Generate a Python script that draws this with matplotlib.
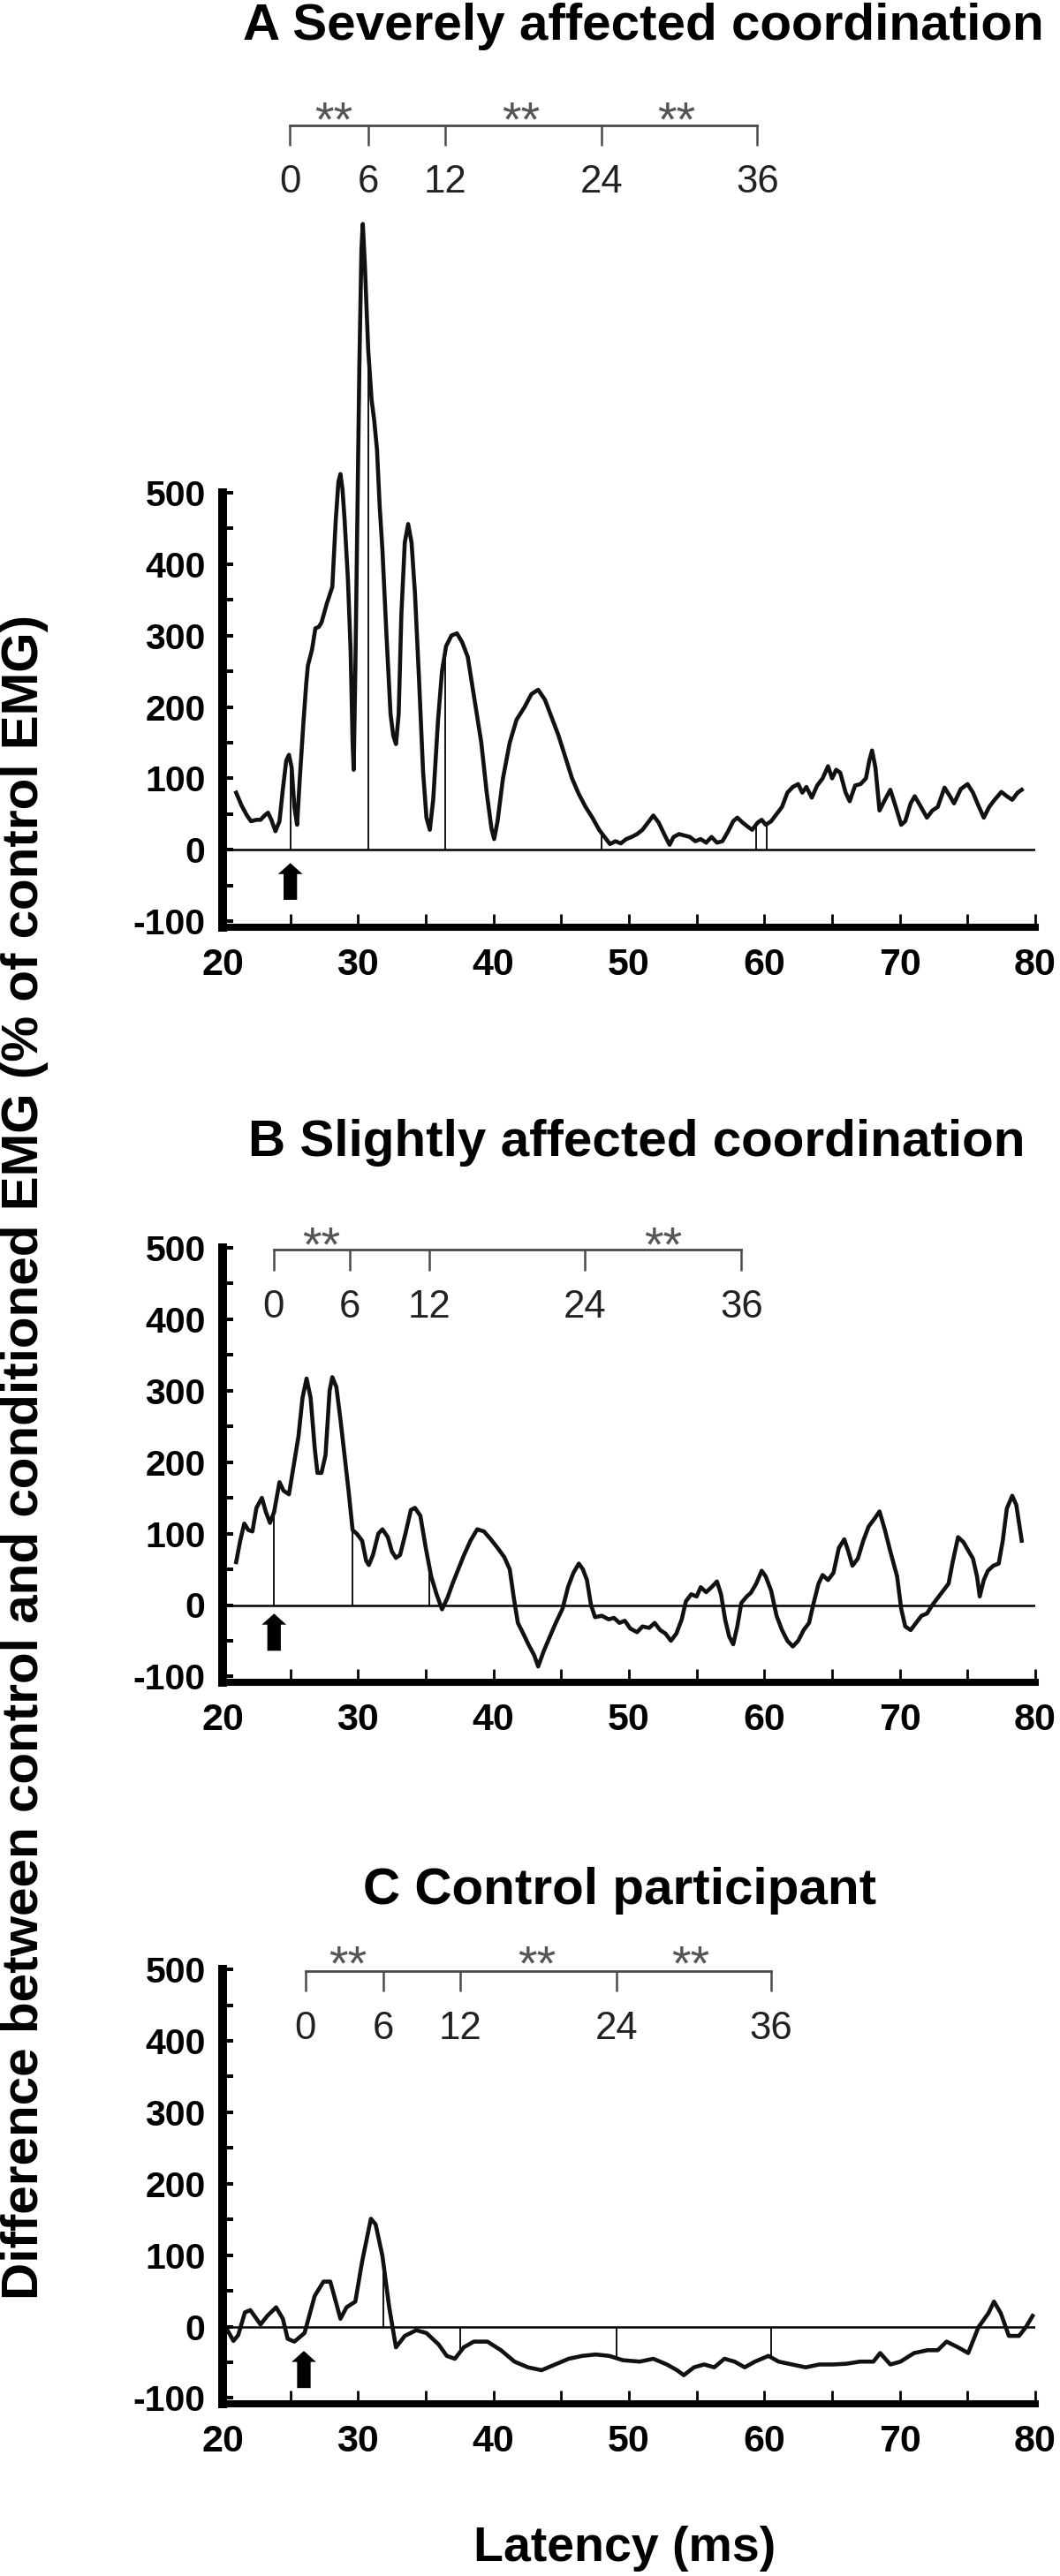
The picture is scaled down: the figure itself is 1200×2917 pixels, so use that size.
import numpy as np
import matplotlib
matplotlib.use("Agg")
import matplotlib.pyplot as plt
from matplotlib.ticker import MultipleLocator

plt.rcParams['font.family'] = ['Liberation Sans', 'DejaVu Sans']
plt.rcParams['font.weight'] = 'bold'
plt.rcParams['axes.unicode_minus'] = False

# ---- values: latency (ms) vs difference (% of control EMG)
a_ms = [21.0, 21.4, 21.8, 22.1, 22.5, 22.8, 23.1, 23.35, 23.6, 23.9, 24.2, 24.45, 24.7, 24.9,
        25.1, 25.3, 25.5, 25.7, 25.96, 26.18, 26.3, 26.6, 26.85, 27.1, 27.3, 27.7, 28.1, 28.35,
        28.55, 28.7, 28.85, 29.0, 29.25, 29.45, 29.6, 29.68, 29.8, 29.95, 30.1, 30.25, 30.35,
        30.5, 30.75, 31.0, 31.2, 31.4, 31.6, 31.8, 32.1, 32.4, 32.6, 32.8, 33.0, 33.2, 33.45,
        33.7, 33.95, 34.2, 34.5, 34.8, 35.05, 35.3, 35.55, 35.9, 36.2, 36.5, 36.9, 37.3, 37.7,
        38.1, 38.6, 39.1, 39.5, 39.85, 40.05, 40.3, 40.7, 41.2, 41.7, 42.3, 42.8, 43.3, 43.8,
        44.3, 44.8, 45.3, 45.8, 46.3, 46.8, 47.3, 47.8, 48.2, 48.6, 49.0, 49.4, 49.8, 50.2,
        50.6, 51.0, 51.4, 51.8, 52.2, 52.6, 53.0, 53.3, 53.7, 54.1, 54.5, 54.9, 55.3, 55.7,
        56.1, 56.5, 56.9, 57.3, 57.7, 58.0, 58.4, 58.8, 59.1, 59.5, 59.8, 60.1, 60.5, 60.9,
        61.3, 61.7, 62.1, 62.5, 62.8, 63.1, 63.5, 63.9, 64.3, 64.7, 65.0, 65.3, 65.6, 66.0,
        66.3, 66.7, 67.1, 67.5, 67.75, 67.95, 68.2, 68.5, 68.9, 69.3, 69.7, 70.1, 70.4, 70.8,
        71.1, 71.5, 72.0, 72.4, 72.8, 73.3, 73.7, 74.0, 74.5, 75.0, 75.4, 75.8, 76.2, 76.6,
        77.0, 77.5, 77.9, 78.3, 78.7, 79.0]
a_val = [80, 62, 48, 40, 42, 42, 48, 52, 42, 26, 40, 85, 125, 133,
         115, 60, 35, 100, 176, 234, 258, 280, 310, 312, 318, 345, 368, 460,
         515, 526, 505, 464, 380, 280, 150, 112, 250, 460, 680, 840, 876,
         820, 700, 630, 600, 560, 480, 420, 300, 190, 160, 148, 190, 330, 430,
         456, 430, 360, 240, 110, 45, 28, 70, 180, 250, 285, 300, 303, 290,
         270, 210, 150, 80, 30, 15, 40, 100, 150, 182, 200, 218, 224, 210,
         185, 160, 130, 100, 78, 60, 45, 28, 18, 8, 12, 9, 15, 18,
         22, 28, 38, 48, 38, 22, 7, 18, 22, 20, 18, 12, 15, 10,
         18, 10, 12, 25, 40, 45, 38, 32, 28, 38, 42, 35, 40, 50,
         60, 80, 88, 92, 80, 88, 73, 90, 100, 117, 100, 112, 108, 80,
         68, 90, 92, 100, 125, 139, 115, 55, 70, 84, 60, 35, 40, 65,
         75, 62, 45, 55, 60, 87, 75, 65, 85, 92, 80, 62, 45, 60,
         70, 81, 75, 70, 80, 84]

b_ms = [21.0, 21.3, 21.6, 21.9, 22.2, 22.5, 22.9, 23.2, 23.5, 23.8, 24.2, 24.5, 24.9, 25.2,
        25.6, 25.9, 26.2, 26.5, 26.8, 27.0, 27.3, 27.6, 27.9, 28.1, 28.4, 28.7, 29.0, 29.3,
        29.6, 29.9, 30.3, 30.6, 30.8, 31.1, 31.5, 31.8, 32.2, 32.5, 32.8, 33.1, 33.5, 33.9,
        34.2, 34.6, 35.0, 35.4, 35.8, 36.2, 36.6, 37.0, 37.4, 37.8, 38.3, 38.8, 39.3, 39.8,
        40.3, 40.8, 41.2, 41.5, 41.8, 42.2, 42.6, 43.0, 43.3, 43.7, 44.1, 44.6, 45.1, 45.5,
        45.9, 46.3, 46.6, 46.9, 47.2, 47.5, 48.0, 48.5, 48.9, 49.3, 49.7, 50.1, 50.6, 51.0,
        51.5, 51.9, 52.3, 52.7, 53.1, 53.5, 53.9, 54.2, 54.6, 55.0, 55.3, 55.7, 56.1, 56.5,
        56.8, 57.1, 57.4, 57.7, 58.0, 58.3, 58.7, 59.0, 59.4, 59.8, 60.1, 60.5, 60.9, 61.3,
        61.7, 62.1, 62.5, 62.9, 63.3, 63.6, 64.0, 64.3, 64.7, 65.1, 65.5, 65.9, 66.2, 66.5,
        66.9, 67.3, 67.7, 68.1, 68.5, 68.9, 69.3, 69.8, 70.1, 70.4, 70.8, 71.2, 71.6, 72.0,
        72.4, 72.8, 73.2, 73.6, 73.9, 74.3, 74.7, 75.0, 75.4, 75.7, 75.9, 76.2, 76.5, 76.9,
        77.3, 77.6, 77.9, 78.3, 78.6, 79.0]
b_val = [60, 90, 114, 105, 103, 136, 150, 130, 115, 130, 172, 160, 155, 190,
         236, 290, 317, 290, 220, 185, 185, 210, 300, 319, 305, 260, 210, 160,
         105, 100, 90, 62, 56, 70, 100, 106, 95, 75, 66, 70, 100, 133,
         136, 125, 80, 40, 15, -6, 10, 31, 50, 69, 90, 106, 103, 92,
         80, 67, 50, 10, -25, -40, -56, -70, -86, -65, -47, -25, -5, 25,
         45, 58, 50, 35, 0, -17, -15, -20, -18, -25, -22, -33, -38, -30,
         -32, -25, -35, -40, -50, -40, -20, 5, 15, 12, 25, 18, 25, 33,
         15, -20, -44, -55, -30, 3, 12, 17, 30, 48, 40, 20, -15, -35,
         -50, -58, -50, -35, -25, 0, 30, 42, 35, 45, 80, 92, 75, 55,
         65, 90, 110, 120, 131, 105, 75, 40, -5, -30, -35, -25, -15, -12,
         0, 10, 20, 30, 60, 95, 88, 78, 65, 40, 12, 35, 48, 55,
         58, 90, 135, 153, 140, 90]

c_ms = [20.3, 20.8, 21.15, 21.65, 22.05, 22.8, 23.3, 23.95, 24.45, 24.8, 25.3, 26.05, 26.8,
        27.45, 27.95, 28.3, 28.7, 29.15, 29.8, 30.3, 30.95, 31.3, 31.8, 32.3, 32.8, 33.45,
        34.3, 35.05, 35.95, 36.55, 37.15, 37.8, 38.55, 39.55, 40.55, 41.55, 42.55, 43.55,
        44.55, 45.55, 46.55, 47.55, 48.55, 49.55, 50.8, 51.8, 52.8, 53.55, 54.05, 54.8,
        55.55, 56.3, 57.05, 57.8, 58.55, 59.3, 60.3, 61.05, 62.05, 63.05, 64.05, 65.05,
        66.05, 67.05, 68.05, 68.55, 69.3, 70.05, 71.05, 72.05, 72.8, 73.45, 74.3, 75.05,
        75.8, 76.55, 76.95, 77.45, 78.05, 78.8, 79.3, 79.8]
c_val = [-3, -20, -12, 20, 23, 3, 15, 27, 11, -17, -21, -9, 43,
         63, 63, 39, 11, 27, 35, 91, 151, 143, 99, 27, -29, -13,
         -5, -9, -25, -41, -45, -29, -21, -21, -33, -49, -57, -61,
         -53, -45, -41, -39, -41, -47, -49, -45, -53, -61, -68, -57,
         -53, -57, -45, -49, -57, -49, -41, -49, -53, -57, -53, -53,
         -52, -49, -49, -37, -53, -49, -37, -33, -33, -21, -29, -37,
         -1, 19, 35, 19, -13, -13, -1, 15]

bracket_labels = ['0', '6', '12', '24', '36']
a_bracket = [24.96, 30.74, 36.44, 47.98, 59.47]
b_bracket = [23.77, 29.41, 35.25, 46.73, 58.3]
c_bracket = [26.12, 31.86, 37.55, 49.07, 60.5]
a_stars = [28.2, 42.0, 53.5]
b_stars = [27.27, 52.56]
c_stars = [29.26, 43.23, 54.56]
a_marks = [25.0, 30.74, 36.44, 47.98, 59.4, 60.2]
b_marks = [23.77, 29.56, 35.25]
c_marks = [31.86, 37.55, 49.07, 60.5]
a_arrow, b_arrow, c_arrow = 25.0, 23.8, 26.0

W, H = 1200, 2917
X20, X80 = 252, 1172
PX = 0.809       # pixels per % unit
YMIN = -108

fig = plt.figure(figsize=(W / 100, H / 100), dpi=100)


def make_axes(y_zero):
    bot = y_zero - YMIN * PX
    top = y_zero - 500 * PX
    ax = fig.add_axes([X20 / W, 1 - bot / H, (X80 - X20) / W, (bot - top) / H])
    ax.set_xlim(20, 80)
    ax.set_ylim(YMIN, 500)
    for s in ['top', 'right']:
        ax.spines[s].set_visible(False)
    ax.spines['left'].set_linewidth(7.2)
    ax.spines['bottom'].set_linewidth(5.8)
    ax.set_xticks(range(20, 81, 10))
    ax.xaxis.set_minor_locator(MultipleLocator(5))
    ax.set_yticks(range(-100, 501, 100))
    ax.yaxis.set_minor_locator(MultipleLocator(50))
    ax.tick_params(axis='y', which='both', direction='in', length=8.6, width=2.9,
                   labelsize=29.5, pad=14)
    ax.tick_params(axis='x', which='both', direction='in', length=10.5, width=2,
                   labelsize=31, pad=16.5)
    ax.patch.set_alpha(0)
    return ax


def draw_panel(ax, ms, val, marks, arrow_x, arrow_lo, arrow_hi, bracket, stars,
               line_y, tick_y, lab_y, star_y):
    ax.hlines(0, 20, 80, color='k', lw=1.8)
    ax.vlines(marks, 0, np.interp(marks, ms, val), color='k', lw=1.3, clip_on=False)
    ax.plot(ms, val, color='#111111', lw=3.3, clip_on=False, solid_joinstyle='round')
    ax.annotate('', xy=(arrow_x, arrow_hi), xytext=(arrow_x, arrow_lo),
                arrowprops=dict(arrowstyle='simple,head_length=0.9,head_width=2.0,tail_width=1.1',
                                mutation_scale=10, fc='k', ec='none', shrinkA=0, shrinkB=0))
    ax.plot([bracket[0], bracket[-1]], [line_y, line_y], color='#4a4a4a', lw=2, clip_on=False)
    ax.vlines(bracket, tick_y, line_y, color='#4a4a4a', lw=1.8, clip_on=False)
    for x, s in zip(bracket, bracket_labels):
        ax.text(x, lab_y, s, ha='center', va='baseline', fontsize=31.5, fontweight='normal',
                color='#222222', clip_on=False)
    for x in stars:
        ax.text(x, star_y, '**', ha='center', va='baseline', fontsize=40, fontweight='normal',
                color='#555555', clip_on=False)


ax_a = make_axes(962.3)
draw_panel(ax_a, a_ms, a_val, a_marks, a_arrow, -70, -18.5, a_bracket, a_stars,
           1014, 985, 920, 1000)
ax_b = make_axes(1817.5)
draw_panel(ax_b, b_ms, b_val, b_marks, b_arrow, -64, -12, b_bracket, b_stars,
           498, 468, 402, 482)
ax_c = make_axes(2634.6)
draw_panel(ax_c, c_ms, c_val, c_marks, c_arrow, -86, -34, c_bracket, c_stars,
           498, 469, 403, 486)

fig.text(728.5 / W, 1 - 45 / H, 'A Severely affected coordination', ha='center',
         va='baseline', fontsize=42)
fig.text(721 / W, 1 - 1309 / H, 'B Slightly affected coordination', ha='center',
         va='baseline', fontsize=42)
fig.text(702 / W, 1 - 2156 / H, 'C Control participant', ha='center',
         va='baseline', fontsize=42)
fig.text(28 / W, 1 - 1650 / H,
         'Difference between control and conditioned EMG (% of control EMG)',
         rotation=90, ha='center', va='center', fontsize=42)
fig.text(707.5 / W, 1 - 2900 / H, 'Latency (ms)', ha='center', va='baseline', fontsize=40)

fig.savefig('out.png', dpi=100)
